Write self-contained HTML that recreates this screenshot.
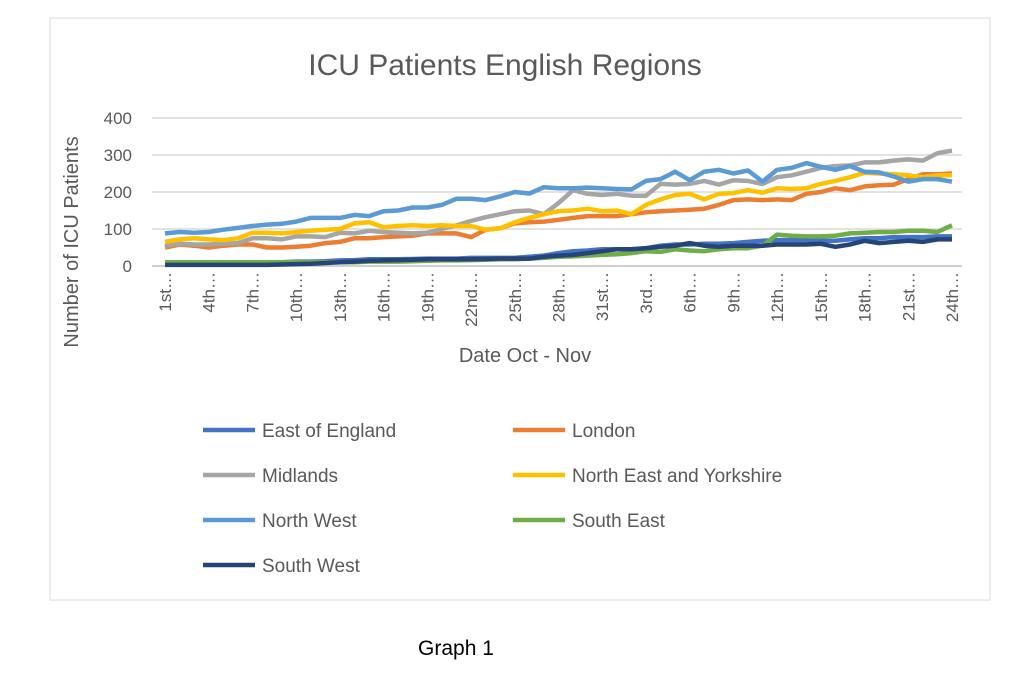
<!DOCTYPE html>
<html><head><meta charset="utf-8"><style>
body{margin:0;background:#fff;font-family:"Liberation Sans",sans-serif;}
</style></head><body>
<svg width="1024" height="688" viewBox="0 0 1024 688" xmlns="http://www.w3.org/2000/svg" font-family="Liberation Sans, sans-serif">
<rect x="50" y="18" width="940" height="582" fill="#fff" stroke="#d9d9d9"/>
<text x="505" y="75" font-size="30" fill="#595959" text-anchor="middle">ICU Patients English Regions</text>
<g id="grid"></g>
<g id="yt"></g>
<g id="xt"></g>
<g id="series"></g>
<text transform="translate(78,242) rotate(-90)" font-size="20" fill="#595959" text-anchor="middle">Number of ICU Patients</text>
<text x="525" y="362" font-size="20" fill="#595959" text-anchor="middle">Date Oct - Nov</text>
<g id="legend"></g>
<text x="456" y="655" font-size="21" fill="#000" text-anchor="middle">Graph 1</text>
</svg>
<script>
const tickLabels=["1st…","4th…","7th…","10th…","13th…","16th…","19th…","22nd…","25th…","28th…","31st…","3rd…","6th…","9th…","12th…","15th…","18th…","21st…","24th…"];
const yTicks=[0,100,200,300,400];
const seriesNames=["East of England","London","Midlands","North East and Yorkshire","North West","South East","South West"];
const seriesColors=["#4472c4","#ed7d31","#a5a5a5","#ffc000","#5b9bd5","#70ad47","#264478"];
const eastEngland=[8,9,10,10,10,10,10,10,10,12,12,13,15,16,18,18,18,19,20,20,20,22,22,22,22,25,28,35,40,42,45,45,45,48,55,58,58,60,60,62,65,68,70,70,70,68,68,72,75,75,78,78,78,80,80];
const london=[50,58,55,50,55,58,58,50,50,52,55,62,65,75,75,78,80,82,88,88,88,78,98,102,115,118,120,125,130,135,135,135,140,145,148,150,152,155,165,178,180,178,180,178,195,200,210,205,215,218,220,235,248,248,250];
const midlands=[55,60,58,58,60,62,75,75,72,80,80,78,90,88,95,92,90,88,90,100,110,122,132,140,148,150,140,170,205,195,192,195,190,190,222,220,222,230,220,232,230,222,240,245,255,265,270,272,280,280,285,288,285,305,312];
const northEastYorks=[65,72,75,72,70,75,90,90,88,92,95,98,100,115,118,105,108,110,108,110,108,108,98,102,118,130,140,148,150,155,148,150,140,165,180,192,195,180,195,197,205,198,210,208,210,222,230,240,252,250,248,245,240,245,245];
const northWest=[88,92,90,92,98,103,108,112,114,120,130,130,130,138,135,148,150,158,158,165,182,182,178,188,200,196,213,210,210,212,210,208,207,230,235,255,232,255,260,250,258,228,260,265,278,268,260,270,255,253,242,228,235,235,228];
const southEast=[10,10,10,10,10,10,10,10,10,10,10,10,10,10,12,12,12,13,14,15,15,16,17,18,18,20,22,25,26,28,30,32,35,40,38,45,42,40,45,48,48,55,85,82,80,80,82,88,90,92,92,95,95,92,110];
const southWest=[3,3,3,3,3,3,3,3,4,5,6,8,10,12,14,15,16,17,18,18,18,18,19,20,20,20,25,28,30,35,40,45,45,48,52,55,62,55,52,55,55,55,58,58,58,60,52,58,68,62,65,68,65,72,72];
const allSeries=[eastEngland,london,midlands,northEastYorks,northWest,southEast,southWest];
const NS="http://www.w3.org/2000/svg";
const x0=165,x1=952,yBase=266,yTop=118,yMax=400;
const n=northWest.length;
function xs(i){return x0+(x1-x0)*i/(n-1);}
function ys(v){return yBase-(yBase-yTop)*v/yMax;}
function mk(tag,attrs,parent){const e=document.createElementNS(NS,tag);for(const k in attrs)e.setAttribute(k,attrs[k]);parent.appendChild(e);return e;}
const grid=document.getElementById('grid'),yt=document.getElementById('yt'),xt=document.getElementById('xt');
yTicks.forEach(v=>{
  const l=mk('line',{x1:152,x2:962,y1:ys(v),y2:ys(v),stroke:v===0?'#bfbfbf':'#d9d9d9','stroke-width':1.5},grid);
  
  
  const t=mk('text',{x:132,y:ys(v)+6,'font-size':17,fill:'#595959','text-anchor':'end'},yt);
  t.textContent=v;
  
  
});
tickLabels.forEach((lab,k)=>{
  const i=k*3,x=xs(i);
  const t=mk('text',{transform:'translate('+(x+6)+',272) rotate(-90)','font-size':17,fill:'#595959','text-anchor':'end'},xt);
  t.textContent=lab;
  
  
});
const sg=document.getElementById('series');
allSeries.forEach((arr,s)=>{
  const pts=arr.map((v,i)=>xs(i).toFixed(1)+','+ys(v).toFixed(1)).join(' ');
  const p=mk('polyline',{points:pts,fill:'none',stroke:seriesColors[s],'stroke-width':4.5,'stroke-linejoin':'round'},sg);
  
  
});
const lg=document.getElementById('legend');
seriesNames.forEach((nm,s)=>{
  const col=s%2,row=Math.floor(s/2);
  const lx=col?513:203,ly=430+row*45;
  const g=mk('g',{},lg);
  
  
  mk('line',{x1:lx,x2:lx+52,y1:ly,y2:ly,stroke:seriesColors[s],'stroke-width':4.5},g);
  const t=mk('text',{x:lx+59,y:ly+7,'font-size':19,fill:'#595959'},g);
  t.textContent=nm;
});
</script>
</body></html>
